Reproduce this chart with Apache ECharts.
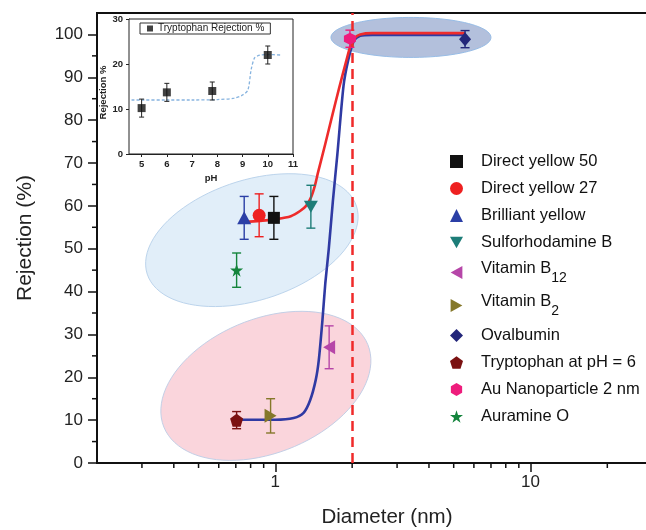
<!DOCTYPE html>
<html>
<head>
<meta charset="UTF-8">
<script src="https://cdn.jsdelivr.net/npm/echarts@6/dist/echarts.min.js"></script>
<style>
html, body { margin: 0; padding: 0; background: #fff; }
#chart { width: 646px; height: 530px; }
</style>
</head>
<body>
<div id="chart"></div>
<script>
// ---- main plot: rejection vs. solute diameter ----
var compounds = ['Direct yellow 50', 'Direct yellow 27', 'Brilliant yellow', 'Sulforhodamine B',
    'Vitamin B12', 'Vitamin B2', 'Ovalbumin', 'Tryptophan at pH = 6', 'Au Nanoparticle 2 nm', 'Auramine O'];
var diameters = [0.987, 0.864, 0.755, 1.378, 1.625, 0.958, 5.54, 0.705, 1.96, 0.705];
var rejections = [57.2, 57.8, 57.2, 59.8, 27, 11, 98.9, 10, 99, 45];
var rejErrors = [5, 5, 5, 5, 5, 4, 2, 2, 2, 4];

// fitted curves
var redFitX = [0.755, 0.87, 1.0, 1.15, 1.25, 1.32, 1.38, 1.43, 1.47, 1.57, 1.67, 1.78, 1.9, 1.97, 2.05, 2.15, 2.4, 5.54];
var redFitY = [56.3, 56.5, 56.9, 57.6, 58.8, 60, 62, 64.8, 67.8, 74.5, 81, 87.6, 94, 97.3, 99.2, 100, 100.3, 100.3];
var blueFitX = [0.705, 1.0, 1.18, 1.29, 1.37, 1.44, 1.48, 1.53, 1.57, 1.62, 1.68, 1.75, 1.85, 1.93, 2.03, 2.15, 2.4, 5.54];
var blueFitY = [10.1, 10.1, 10.5, 11.7, 14.7, 19.4, 24, 33.4, 42, 50, 61, 72, 88, 94, 98.5, 99.7, 99.9, 99.9];
var cutoffDiameter = 2;

var xMinorTicks = [0.3, 0.4, 0.5, 0.6, 0.7, 0.8, 0.9, 2, 3, 4, 5, 6, 7, 8, 9, 20];
var yMinorTicks = [5, 15, 25, 35, 45, 55, 65, 75, 85, 95];

// centres of the shaded groups (diameter, rejection)
var groupCenters = [[0.809, 52], [0.918, 18], [3.4, 99.3]];

// ---- inset: tryptophan rejection vs pH ----
var insetPH = [5, 6, 7.8, 10];
var insetRej = [10.2, 13.7, 14, 22];
var insetErr = [2, 2, 2, 2];
var insetFitX = [4.6, 5, 6, 7, 8, 8.67, 9.0, 9.21, 9.34, 9.47, 9.6, 9.74, 10, 10.5];
var insetFitY = [12, 12, 12, 12, 12.1, 12.4, 13.1, 14.2, 18.7, 21.3, 21.8, 22, 22.1, 22];
var insetXTicks = [5, 6, 7, 8, 9, 10, 11];

var FONT = '"Liberation Sans", Arial, sans-serif';
var colors = ['#111111', '#ee2020', '#2b3fa6', '#1d7d78', '#b646a8', '#85782a', '#23267a', '#7b1111', '#ee1c7c', '#14843c'];
var symbols = ['rect', 'circle', 'triangle',
    'path://M-1,-0.9 L1,-0.9 L0,0.9 Z',
    'path://M0.9,-1 L0.9,1 L-0.9,0 Z',
    'path://M-0.9,-1 L-0.9,1 L0.9,0 Z',
    'diamond',
    'path://M0,-1 L0.951,-0.309 L0.588,0.809 L-0.588,0.809 L-0.951,-0.309 Z',
    'path://M0,-1 L0.866,-0.5 L0.866,0.5 L0,1 L-0.866,0.5 L-0.866,-0.5 Z',
    'path://M0,-1 L0.225,-0.309 L0.951,-0.309 L0.363,0.118 L0.588,0.809 L0,0.382 L-0.588,0.809 L-0.363,0.118 L-0.951,-0.309 L-0.225,-0.309 Z'];
var symbolSizes = [12, 13, [14, 13], [14, 12], [12, 14], [12, 14], [12, 14], 13, 12, 13];

var ellipseStyles = [
    { rx: 110, ry: 60, rot: 18, fill: 'rgba(214,232,247,0.72)', stroke: '#bcd4ec' },
    { rx: 110, ry: 67, rot: 22, fill: 'rgba(249,206,214,0.85)', stroke: '#c3cfe6' },
    { rx: 80, ry: 20, rot: 0, fill: '#b3c0dc', stroke: '#98bde6' }
];

function renderEllipse(params, api) {
    var c = api.coord([api.value(0), api.value(1)]);
    var e = ellipseStyles[params.dataIndex];
    var a = e.rot * Math.PI / 180;
    var pts = [];
    for (var i = 0; i < 90; i++) {
        var t = i / 90 * 2 * Math.PI;
        var ex = e.rx * Math.cos(t), ey = e.ry * Math.sin(t);
        pts.push([c[0] + ex * Math.cos(a) + ey * Math.sin(a), c[1] - ex * Math.sin(a) + ey * Math.cos(a)]);
    }
    return { type: 'polygon', shape: { points: pts }, style: { fill: e.fill, stroke: e.stroke, lineWidth: 1 } };
}

function errorBarRenderer(cap, width) {
    return function (params, api) {
        var p1 = api.coord([api.value(0), api.value(1)]);
        var p2 = api.coord([api.value(0), api.value(2)]);
        var st = { stroke: api.visual('color'), lineWidth: width };
        return {
            type: 'group', children: [
                { type: 'line', shape: { x1: p1[0], y1: p1[1], x2: p2[0], y2: p2[1] }, style: st },
                { type: 'line', shape: { x1: p1[0] - cap, y1: p1[1], x2: p1[0] + cap, y2: p1[1] }, style: st },
                { type: 'line', shape: { x1: p2[0] - cap, y1: p2[1], x2: p2[0] + cap, y2: p2[1] }, style: st }
            ]
        };
    };
}

function renderXMinor(params, api) {
    var p = api.coord([api.value(0), 0]);
    return { type: 'line', shape: { x1: p[0], y1: p[1], x2: p[0], y2: p[1] + 5 }, style: { stroke: '#111', lineWidth: 1.5 } };
}
function renderYMinor(params, api) {
    var p = api.coord([0.2, api.value(0)]);
    return { type: 'line', shape: { x1: p[0], y1: p[1], x2: p[0] - 5, y2: p[1] }, style: { stroke: '#111', lineWidth: 1.5 } };
}

function zip(xs, ys) {
    return xs.map(function (x, i) { return [x, ys[i]]; });
}

var series = [];

series.push({
    type: 'custom', name: 'groups', xAxisIndex: 0, yAxisIndex: 0, silent: true, z: 1,
    renderItem: renderEllipse, data: groupCenters
});
// blue first so the red fit sits on top of it
series.push({
    type: 'line', name: 'fitBlue', xAxisIndex: 0, yAxisIndex: 0, data: zip(blueFitX, blueFitY),
    smooth: 0.25, showSymbol: false, silent: true, z: 3,
    lineStyle: { color: '#2f3aa3', width: 2.6 }
});
series.push({
    type: 'line', name: 'fitRed', xAxisIndex: 0, yAxisIndex: 0, data: zip(redFitX, redFitY),
    smooth: 0.3, showSymbol: false, silent: true, z: 3,
    lineStyle: { color: '#ee2b2b', width: 2.6 },
    markLine: {
        silent: true, symbol: ['none', 'none'], label: { show: false },
        lineStyle: { color: '#f02a2a', width: 2.5, type: [10, 6] },
        data: [{ xAxis: cutoffDiameter }]
    }
});
series.push({
    type: 'custom', name: 'errors', xAxisIndex: 0, yAxisIndex: 0, silent: true, z: 4,
    renderItem: errorBarRenderer(4.5, 1.4),
    data: diameters.map(function (d, i) {
        return { value: [d, rejections[i] - rejErrors[i], rejections[i] + rejErrors[i]], itemStyle: { color: colors[i] } };
    })
});
compounds.forEach(function (name, i) {
    series.push({
        type: 'scatter', name: name, xAxisIndex: 0, yAxisIndex: 0, z: 5,
        data: [[diameters[i], rejections[i]]],
        symbol: symbols[i], symbolSize: symbolSizes[i],
        itemStyle: { color: colors[i], opacity: 1 }
    });
});
series.push({
    type: 'custom', name: 'xMinor', xAxisIndex: 0, yAxisIndex: 0, silent: true, clip: false,
    renderItem: renderXMinor, data: xMinorTicks.map(function (v) { return [v, 0]; })
});
series.push({
    type: 'custom', name: 'yMinor', xAxisIndex: 0, yAxisIndex: 0, silent: true, clip: false,
    renderItem: renderYMinor, data: yMinorTicks.map(function (v) { return [v]; }),
    encode: { y: 0 }
});

// inset series
series.push({
    type: 'line', name: 'insetFit', xAxisIndex: 1, yAxisIndex: 1, data: zip(insetFitX, insetFitY),
    smooth: 0.3, showSymbol: false, silent: true, z: 3,
    lineStyle: { color: '#86b3df', width: 1.3, type: [3, 2] }
});
series.push({
    type: 'custom', name: 'insetErrors', xAxisIndex: 1, yAxisIndex: 1, silent: true, z: 4,
    renderItem: errorBarRenderer(2.5, 1),
    data: insetPH.map(function (p, i) {
        return { value: [p, insetRej[i] - insetErr[i], insetRej[i] + insetErr[i]], itemStyle: { color: '#222' } };
    })
});
series.push({
    type: 'scatter', name: 'Tryptophan Rejection %', xAxisIndex: 1, yAxisIndex: 1, z: 5,
    data: zip(insetPH, insetRej), symbol: 'rect', symbolSize: 8,
    itemStyle: { color: '#111' }
});

var option = {
    animation: false,
    backgroundColor: '#fff',
    textStyle: { fontFamily: FONT },
    grid: [
        { left: 97, top: 13, right: -4, bottom: 67, outerBoundsMode: 'none', containLabel: false,
          show: true, borderColor: '#111', borderWidth: 2, backgroundColor: 'transparent' },
        { left: 129, top: 19, width: 164, height: 135, outerBoundsMode: 'none', containLabel: false,
          show: true, borderColor: '#222', borderWidth: 1, backgroundColor: '#fff', z: 2 }
    ],
    legend: [
        {
            data: compounds, orient: 'vertical', left: 445, top: 147,
            itemWidth: 13, itemHeight: 13, itemGap: 8, selectedMode: false,
            formatter: function (name) {
                var m = name.match(/^(Vitamin B)(\d+)$/);
                return m ? '{n|' + m[1] + '}{s|' + m[2] + '}' : name;
            },
            textStyle: {
                fontFamily: FONT, fontSize: 16.5, lineHeight: 19, color: '#111', padding: [0, 0, 0, 13],
                rich: {
                    n: { fontFamily: FONT, fontSize: 16.5, lineHeight: 19, color: '#111', padding: [0, 0, 8, 0] },
                    s: { fontFamily: FONT, fontSize: 14, lineHeight: 16, color: '#111', padding: [11, 0, 0, 0] }
                }
            }
        },
        {
            data: ['Tryptophan Rejection %'], left: 140, top: 23, selectedMode: false,
            itemWidth: 6, itemHeight: 6, padding: [0, 6, 0, 7],
            borderColor: '#333', borderWidth: 1, backgroundColor: '#fff', z: 4,
            textStyle: { fontFamily: FONT, fontSize: 10, lineHeight: 11, color: '#222' }
        }
    ],
    xAxis: [
        {
            type: 'log', logBase: 10, gridIndex: 0, min: 0.2, max: 29.4,
            name: 'Diameter (nm)', nameLocation: 'middle', nameGap: 44,
            nameTextStyle: { fontFamily: FONT, fontSize: 20.5, color: '#222', padding: [0, 0, 0, 27] },
            axisLine: { show: true, lineStyle: { color: '#111', width: 2 } },
            axisTick: { show: true, length: 9, lineStyle: { color: '#111', width: 1.5 } },
            axisLabel: { fontFamily: FONT, fontSize: 17, color: '#222', margin: 11, showMinLabel: false, showMaxLabel: false },
            splitLine: { show: false }
        },
        {
            type: 'value', gridIndex: 1, min: 4.5, max: 11,
            name: 'pH', nameLocation: 'middle', nameGap: 19,
            nameTextStyle: { fontFamily: FONT, fontSize: 9.5, fontWeight: 'bold', color: '#222' },
            axisLine: { show: true, lineStyle: { color: '#222', width: 1 } },
            axisTick: { show: true, length: 3, customValues: insetXTicks, lineStyle: { color: '#222' } },
            axisLabel: { fontFamily: FONT, fontSize: 9.5, fontWeight: 'bold', color: '#222', margin: 5, customValues: insetXTicks },
            splitLine: { show: false }
        }
    ],
    yAxis: [
        {
            type: 'value', gridIndex: 0, min: 0, max: 105, interval: 10,
            name: 'Rejection (%)', nameLocation: 'middle', nameGap: 61,
            nameTextStyle: { fontFamily: FONT, fontSize: 21, color: '#222' },
            axisLine: { show: true, lineStyle: { color: '#111', width: 2 } },
            axisTick: { show: true, length: 9, lineStyle: { color: '#111', width: 1.5 } },
            axisLabel: { fontFamily: FONT, fontSize: 17, color: '#222', margin: 14, showMaxLabel: false },
            splitLine: { show: false }
        },
        {
            type: 'value', gridIndex: 1, min: 0, max: 30, interval: 10,
            name: 'Rejection %', nameLocation: 'middle', nameGap: 21,
            nameTextStyle: { fontFamily: FONT, fontSize: 9.5, fontWeight: 'bold', color: '#222', padding: [0, 12, 0, 0] },
            axisLine: { show: true, lineStyle: { color: '#222', width: 1 } },
            axisTick: { show: true, length: 3, lineStyle: { color: '#222' } },
            axisLabel: { fontFamily: FONT, fontSize: 9.5, fontWeight: 'bold', color: '#222', margin: 6 },
            splitLine: { show: false }
        },
        {
            type: 'value', gridIndex: 1, min: 0, max: 30, interval: 10, position: 'right',
            axisLine: { show: false },
            axisTick: { show: true, inside: true, length: 3, lineStyle: { color: '#222' } },
            axisLabel: { show: false },
            splitLine: { show: false }
        }
    ],
    series: series
};

var myChart = echarts.init(document.getElementById('chart'));
myChart.setOption(option);
</script>
</body>
</html>
